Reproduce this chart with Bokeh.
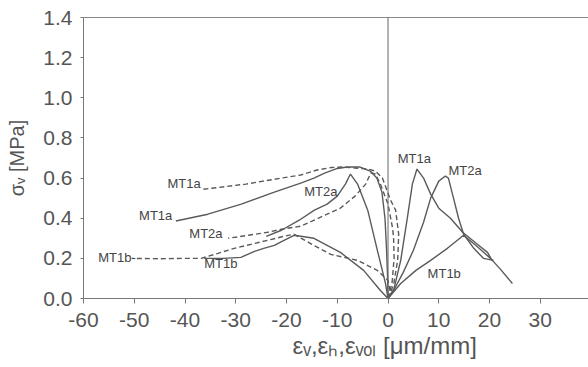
from bokeh.plotting import figure
from bokeh.models import Span, LinearAxis, FixedTicker, Range1d, PrintfTickFormatter, ColumnDataSource, Title
from bokeh.core.properties import value
from bokeh.embed import file_html
from bokeh.resources import INLINE

# ---------------- data ----------------
x_ticks = [-60, -50, -40, -30, -20, -10, 0, 10, 20, 30, 40]
y_ticks = [0.0, 0.2, 0.4, 0.6, 0.8, 1.0, 1.2, 1.4]

# horizontal strain (solid, left side)
mt1a_h_x = [0, -0.1, -0.3, -0.6, -1.2, -2.2, -3.5, -5.5, -8.0, -10.0, -12.5, -14.6, -17.2, -22.4, -28.9, -35.5, -41.8]
mt1a_h_y = [0, 0.12, 0.25, 0.40, 0.53, 0.60, 0.635, 0.655, 0.655, 0.648, 0.625, 0.60, 0.575, 0.53, 0.47, 0.42, 0.386]
mt2a_h_x = [0, -0.5, -2.1, -4.0, -6.0, -7.4, -8.4, -10.0, -12.0, -14.5, -17.5, -21.0, -24.0]
mt2a_h_y = [0, 0.075, 0.24, 0.44, 0.57, 0.62, 0.57, 0.51, 0.47, 0.44, 0.39, 0.34, 0.31]
mt1b_h_x = [0, -1.5, -4.8, -9.4, -14.6, -18.5, -20.5, -22.4, -24.5, -26.3, -29.0, -32.5, -36.2]
mt1b_h_y = [0, 0.04, 0.14, 0.23, 0.30, 0.315, 0.29, 0.265, 0.25, 0.235, 0.205, 0.20, 0.20]

# volumetric strain (dashed)
mt1a_vol_x = [0, 1.1, 1.9, 2.1, 1.5, 0.5, -1.1, -2.5, -4.0, -6.5, -9.0, -11.1, -14.0, -17.2, -21.0, -28.0, -36.8]
mt1a_vol_y = [0, 0.07, 0.19, 0.32, 0.44, 0.49, 0.60, 0.635, 0.645, 0.65, 0.655, 0.653, 0.64, 0.615, 0.60, 0.57, 0.543]
mt2a_vol_x = [0, 0.8, 1.2, 1.1, 0.9, 0.0, -1.5, -2.5, -3.4, -4.4, -6.5, -9.4, -12.0, -15.0, -17.2, -21.0, -23.7, -27.5, -31.5]
mt2a_vol_y = [0, 0.08, 0.20, 0.30, 0.35, 0.47, 0.57, 0.62, 0.625, 0.57, 0.51, 0.45, 0.42, 0.385, 0.36, 0.345, 0.33, 0.315, 0.30]
mt1b_vol_x = [0, 0.4, 0.0, -2.1, -6.0, -11.3, -15.0, -18.5, -20.5, -23.7, -27.0, -30.3, -33.5, -36.8, -40.0, -45.0, -50.5]
mt1b_vol_y = [0, 0.04, 0.09, 0.14, 0.19, 0.22, 0.27, 0.32, 0.31, 0.29, 0.27, 0.25, 0.225, 0.20, 0.20, 0.198, 0.20]

# vertical strain (solid, right side)
mt1a_v_x = [0, 1.2, 2.5, 3.8, 4.8, 5.7, 7.0, 8.4, 10.0, 12.3, 14.7, 17.6, 19.6, 20.5]
mt1a_v_y = [0, 0.05, 0.19, 0.40, 0.57, 0.645, 0.60, 0.52, 0.45, 0.40, 0.33, 0.27, 0.23, 0.19]
mt2a_v_x = [0, 1.1, 3.0, 5.0, 7.0, 8.4, 10.0, 11.3, 11.9, 12.7, 13.9, 14.9, 16.9, 18.8, 20.8]
mt2a_v_y = [0, 0.04, 0.13, 0.24, 0.38, 0.50, 0.585, 0.61, 0.60, 0.52, 0.40, 0.32, 0.25, 0.20, 0.19]
mt1b_v_x = [0, 2.5, 5.5, 8.4, 11.7, 14.9, 17.5, 20.2, 22.0, 24.5]
mt1b_v_y = [0, 0.075, 0.14, 0.19, 0.25, 0.315, 0.26, 0.20, 0.15, 0.075]

# curve labels
lab_text = ["MT1a", "MT1a", "MT2a", "MT1b-", "MT1b", "MT2a", "MT1a", "MT2a", "MT1b"]
lab_x = [-36.9, -42.5, -32.6, -49.7, -36.2, -9.95, 1.9, 11.9, 7.8]
lab_y = [0.573, 0.414, 0.324, 0.204, 0.174, 0.533, 0.70, 0.638, 0.127]
lab_align = ["right", "right", "right", "right", "left", "right", "left", "left", "left"]

x_title = "εᵥ,εₕ,εᵥₒₗ  [μm/mm]"
y_title = "σᵥ [MPa]"

# ---------------- figure ----------------
LINE = "#5a5a5a"
TXT = "#555555"
FONT = "Liberation Sans"

p = figure(width=588, height=367, x_range=Range1d(-60, 39.5), y_range=Range1d(0, 1.4),
           output_backend="svg", toolbar_location=None,
           min_border_left=83, min_border_right=0, min_border_top=17, min_border_bottom=69)
p.background_fill_color = "white"
p.border_fill_color = "white"
p.outline_line_color = None
p.xgrid.visible = False
p.ygrid.visible = False

p.xaxis.ticker = FixedTicker(ticks=x_ticks)
p.xaxis.major_label_overrides = {t: str(t) for t in x_ticks}
p.yaxis.ticker = FixedTicker(ticks=y_ticks)
p.yaxis.formatter = PrintfTickFormatter(format="%.1f")
for ax in (p.xaxis, p.yaxis):
    ax.axis_line_color = "#777777"
    ax.major_tick_line_color = "#777777"
    ax.minor_tick_line_color = None
    ax.major_tick_in = 0
    ax.major_label_text_font = FONT
    ax.major_label_text_font_size = "21px"
    ax.major_label_text_color = TXT
p.xaxis.major_tick_out = 5
p.xaxis.major_label_standoff = 9
p.yaxis.major_tick_out = 3
p.yaxis.major_label_standoff = 8

p.yaxis.axis_label = y_title
p.yaxis.axis_label_text_font = FONT
p.yaxis.axis_label_text_font_size = "20px"
p.yaxis.axis_label_text_font_style = "normal"
p.yaxis.axis_label_text_color = TXT
p.yaxis.axis_label_standoff = 12

p.add_layout(Title(text=x_title, align="left", offset=209, text_font=FONT,
                   text_font_size="24px", text_font_style="normal", text_color=TXT,
                   standoff=0), "below")

top = LinearAxis(ticker=FixedTicker(ticks=[]), axis_line_color="#888888",
                 major_tick_out=0, major_tick_in=0, minor_tick_out=0, minor_tick_in=0)
p.add_layout(top, "above")

p.add_layout(Span(location=0, dimension="height", line_color="#666666", line_width=1))

solid = [(mt1a_h_x, mt1a_h_y), (mt2a_h_x, mt2a_h_y), (mt1b_h_x, mt1b_h_y),
         (mt1a_v_x, mt1a_v_y), (mt2a_v_x, mt2a_v_y), (mt1b_v_x, mt1b_v_y)]
dashed = [(mt1a_vol_x, mt1a_vol_y), (mt2a_vol_x, mt2a_vol_y), (mt1b_vol_x, mt1b_vol_y)]
for xs, ys in solid:
    p.line(xs, ys, line_color=LINE, line_width=1.4)
for xs, ys in dashed:
    p.line(xs, ys, line_color=LINE, line_width=1.4, line_dash="5 3")

src = ColumnDataSource(dict(x=lab_x, y=lab_y, t=lab_text, a=lab_align))
p.text(x="x", y="y", text="t", text_align="a", text_baseline="middle", source=src,
       text_font=value(FONT), text_font_size="13px", text_color="#444444")

open("out.html", "w").write(file_html(p, INLINE))
